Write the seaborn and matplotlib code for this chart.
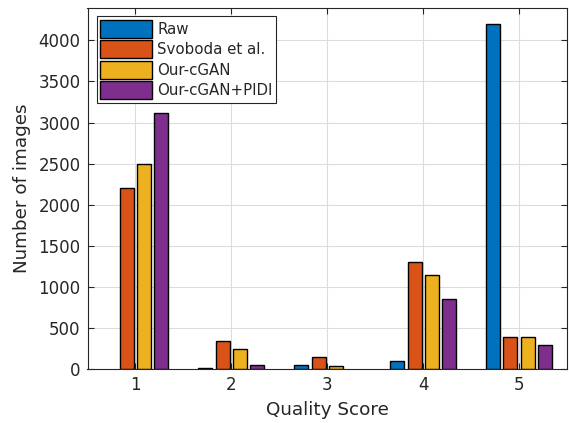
import matplotlib
matplotlib.use("Agg")
import matplotlib.pyplot as plt
import seaborn as sns
import pandas as pd

# Quality score categories and image counts per method
scores = ["1", "2", "3", "4", "5"]
methods = ["Raw", "Svoboda et al.", "Our-cGAN", "Our-cGAN+PIDI"]
raw = [0, 15, 50, 100, 4200]
svoboda = [2200, 340, 150, 1300, 390]
our_cgan = [2500, 245, 35, 1140, 390]
our_cgan_pidi = [3110, 52, 0, 852, 292]

colors = ["#0072BD", "#D95319", "#EDB120", "#7E2F8E"]

rows = []
for name, vals in zip(methods, [raw, svoboda, our_cgan, our_cgan_pidi]):
    for s, v in zip(scores, vals):
        rows.append({"score": s, "method": name, "count": v})
df = pd.DataFrame(rows)

sns.set_theme(style="white")
plt.rcParams["font.family"] = ["DejaVu Sans"]
dark = "#262626"

fig = plt.figure(figsize=(5.69, 4.23), dpi=100)
ax = fig.add_axes([87.5 / 569, 1 - 369 / 423, (567 - 87.5) / 569, (369 - 7.5) / 423])

sns.barplot(data=df, x="score", y="count", hue="method", order=scores,
            hue_order=methods, palette=colors, width=0.72, gap=0.19,
            edgecolor="black", linewidth=1.0, saturation=1, ax=ax, zorder=2)

# empty bars leave no outline on the baseline
for p in ax.patches:
    if p.get_height() == 0:
        p.set_linewidth(0)

ax.set_xlim(-0.5, 4.5)
ax.set_ylim(0, 4400)
ax.set_yticks(range(0, 4001, 500))
ax.set_xlabel("Quality Score", fontsize=13.2, color=dark, labelpad=5)
ax.set_ylabel("Number of images", fontsize=13.2, color=dark, labelpad=5)

ax.grid(True, color="#dcdcdc", linewidth=0.8, zorder=0)
ax.set_axisbelow(True)
for sp in ax.spines.values():
    sp.set_visible(True)
    sp.set_color(dark)
    sp.set_linewidth(0.8)
ax.tick_params(direction="in", length=4, width=0.8, colors=dark, labelcolor=dark,
               labelsize=12, top=True, right=True, bottom=True, left=True, pad=5)

leg = ax.legend(loc="upper left", bbox_to_anchor=(0.019, 0.976), fontsize=10.8,
                frameon=True, fancybox=False, edgecolor=dark, framealpha=1,
                handlelength=3.45, handleheight=1.45, handletextpad=0.33,
                labelspacing=0.18, borderpad=0.25, borderaxespad=0.0)
leg.get_frame().set_linewidth(0.8)
for h in leg.legend_handles:
    h.set_edgecolor("black")
    h.set_linewidth(1.0)
for t in leg.get_texts():
    t.set_color(dark)

fig.savefig("out.png", dpi=100)
